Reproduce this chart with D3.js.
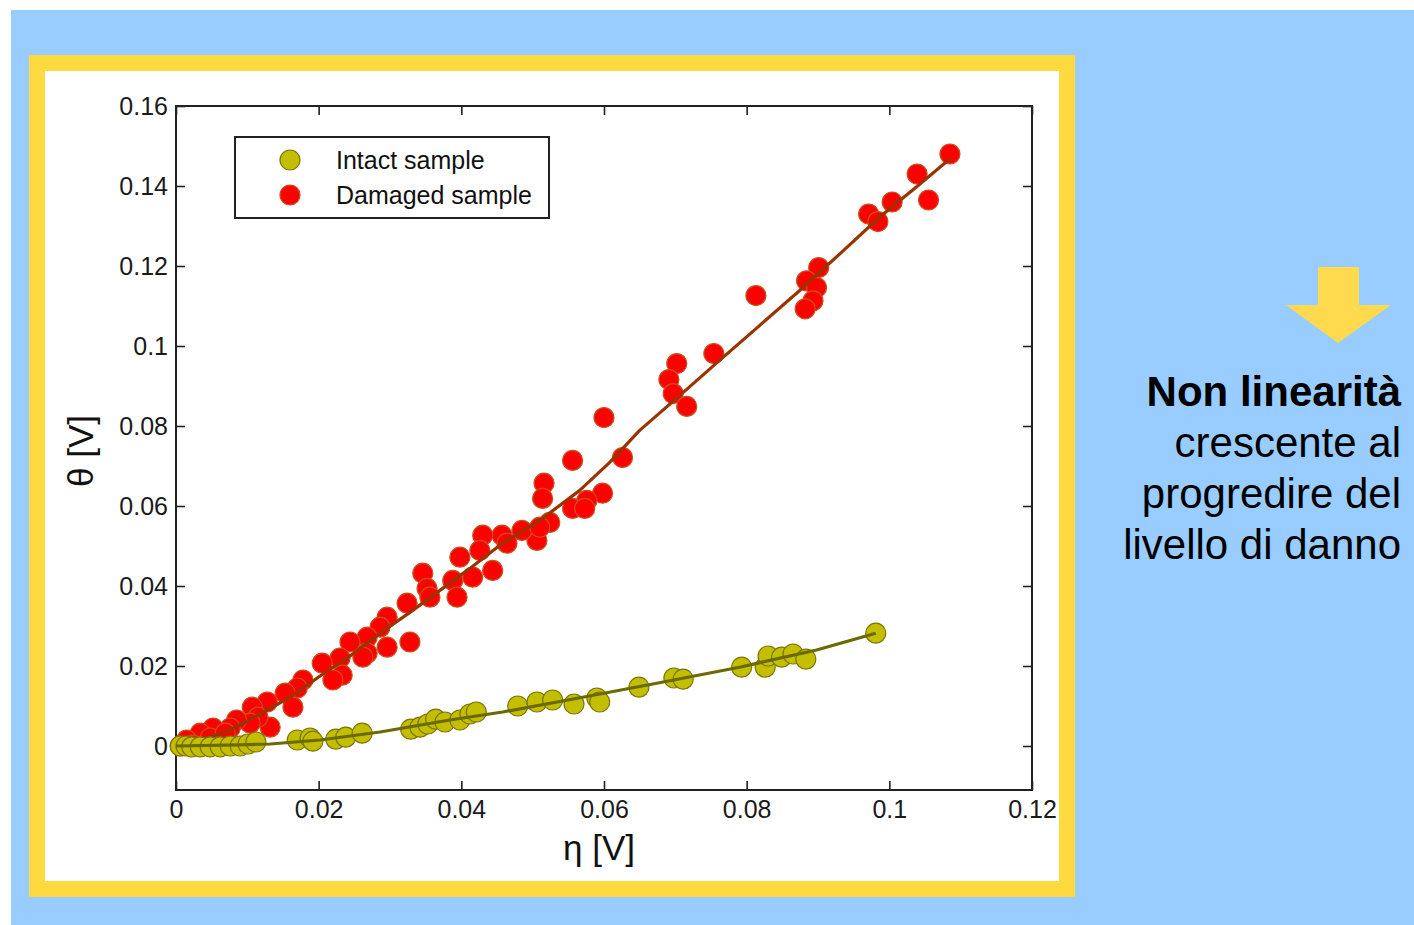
<!DOCTYPE html>
<html>
<head>
<meta charset="utf-8">
<script src="https://cdn.jsdelivr.net/npm/d3@7"></script>
<style>
  html, body { margin: 0; padding: 0; background: #ffffff; }
  svg { display: block; }
</style>
</head>
<body>
<svg id="chart" width="1414" height="925"></svg>
<script>
// Intact sample: measured points [eta, theta] in volts
const intactPoints = [
  [0.0006, 0.0000], [0.0014, 0.0000], [0.0022, -0.0002], [0.0034, -0.0002],
  [0.0048, -0.0002], [0.0062, -0.0002], [0.0076, 0.0000], [0.0090, 0.0000],
  [0.0101, 0.0005], [0.0112, 0.0010], [0.0170, 0.0015], [0.0188, 0.0020],
  [0.0192, 0.0012], [0.0224, 0.0017], [0.0238, 0.0022], [0.0261, 0.0032],
  [0.0329, 0.0042], [0.0342, 0.0047], [0.0353, 0.0055], [0.0364, 0.0067],
  [0.0377, 0.0060], [0.0398, 0.0065], [0.0412, 0.0080], [0.0421, 0.0085],
  [0.0479, 0.0100], [0.0506, 0.0110], [0.0528, 0.0115], [0.0558, 0.0105],
  [0.0590, 0.0120], [0.0594, 0.0110], [0.0649, 0.0147], [0.0698, 0.0170],
  [0.0711, 0.0167], [0.0793, 0.0197], [0.0826, 0.0197], [0.0830, 0.0225],
  [0.0849, 0.0222], [0.0865, 0.0230], [0.0883, 0.0217], [0.0981, 0.0282]
];

// Intact sample: fitted trend
const intactFit = [
  [0.0000, 0.0000], [0.0090, 0.0003], [0.0132, 0.0005], [0.0202, 0.0015],
  [0.0286, 0.0035], [0.0384, 0.0065], [0.0458, 0.0085], [0.0570, 0.0122],
  [0.0674, 0.0157], [0.0790, 0.0197], [0.0898, 0.0240], [0.0981, 0.0282]
];

// Damaged sample: measured points [eta, theta] in volts
const damagedPoints = [
  [0.1085, 0.1480], [0.1039, 0.1430], [0.1055, 0.1365], [0.1004, 0.1360],
  [0.0971, 0.1330], [0.0984, 0.1311], [0.0901, 0.1196], [0.0884, 0.1163],
  [0.0898, 0.1146], [0.0893, 0.1113], [0.0882, 0.1093], [0.0813, 0.1126],
  [0.0754, 0.0981], [0.0702, 0.0956], [0.0691, 0.0916], [0.0697, 0.0881],
  [0.0716, 0.0849], [0.0600, 0.0821], [0.0626, 0.0721], [0.0556, 0.0714],
  [0.0516, 0.0657], [0.0514, 0.0619], [0.0598, 0.0632], [0.0556, 0.0594],
  [0.0576, 0.0614], [0.0573, 0.0594], [0.0524, 0.0559], [0.0506, 0.0514],
  [0.0485, 0.0539], [0.0510, 0.0547], [0.0457, 0.0527], [0.0430, 0.0527],
  [0.0464, 0.0507], [0.0426, 0.0489], [0.0398, 0.0472], [0.0444, 0.0439],
  [0.0416, 0.0422], [0.0346, 0.0432], [0.0388, 0.0414], [0.0394, 0.0372],
  [0.0352, 0.0394], [0.0356, 0.0372], [0.0324, 0.0357], [0.0296, 0.0322],
  [0.0286, 0.0297], [0.0328, 0.0260], [0.0296, 0.0247], [0.0268, 0.0272],
  [0.0244, 0.0260], [0.0268, 0.0232], [0.0262, 0.0222], [0.0230, 0.0220],
  [0.0205, 0.0207], [0.0233, 0.0177], [0.0220, 0.0165], [0.0178, 0.0165],
  [0.0170, 0.0145], [0.0153, 0.0132], [0.0164, 0.0097], [0.0128, 0.0110],
  [0.0107, 0.0097], [0.0132, 0.0047], [0.0115, 0.0072], [0.0104, 0.0057],
  [0.0085, 0.0065], [0.0076, 0.0045], [0.0052, 0.0045], [0.0062, 0.0015],
  [0.0034, 0.0032], [0.0038, 0.0000], [0.0015, 0.0015], [0.0006, 0.0000],
  [0.0024, 0.0002], [0.0048, 0.0020], [0.0069, 0.0032]
];

// Damaged sample: fitted trend
const damagedFit = [
  [0.0000, 0.0000], [0.0034, 0.0015], [0.0076, 0.0040], [0.0118, 0.0080],
  [0.0160, 0.0122], [0.0202, 0.0175], [0.0244, 0.0225], [0.0286, 0.0282],
  [0.0328, 0.0334], [0.0370, 0.0389], [0.0412, 0.0444], [0.0454, 0.0502],
  [0.0510, 0.0564], [0.0566, 0.0639], [0.0608, 0.0709], [0.0650, 0.0789],
  [0.0706, 0.0876], [0.0762, 0.0964], [0.0818, 0.1051], [0.0874, 0.1138],
  [0.0931, 0.1231], [0.0987, 0.1323], [0.1043, 0.1405], [0.1085, 0.1468]
];

const seriesNames = ["Intact sample", "Damaged sample"];

const xTicks = [0, 0.02, 0.04, 0.06, 0.08, 0.1, 0.12];
const xTickLabels = ["0", "0.02", "0.04", "0.06", "0.08", "0.1", "0.12"];
const yTicks = [0, 0.02, 0.04, 0.06, 0.08, 0.1, 0.12, 0.14, 0.16];
const yTickLabels = ["0", "0.02", "0.04", "0.06", "0.08", "0.1", "0.12", "0.14", "0.16"];

const sideText = ["Non linearità", "crescente al", "progredire del", "livello di danno"];

const svg = d3.select("#chart");

// Slide background, frame and white chart panel
svg.append("rect").attr("x", 11).attr("y", 10).attr("width", 1403).attr("height", 915).attr("fill", "#99CCFF");
svg.append("rect").attr("x", 29).attr("y", 55).attr("width", 1046).attr("height", 842).attr("fill", "#FFD940");
svg.append("rect").attr("x", 45).attr("y", 71).attr("width", 1014).attr("height", 810).attr("fill", "#FFFFFF");

// Plot area
const plot = { left: 176, right: 1032, top: 106, bottom: 790 };
const x = d3.scaleLinear().domain([0, 0.12]).range([plot.left, plot.right]);
const y = d3.scaleLinear().domain([-0.011, 0.16]).range([plot.bottom, plot.top]);

const fontFamily = "'Liberation Sans', Arial, Helvetica, sans-serif";
const axisColor = "#222";

function styleAxis(g) {
  g.select(".domain").remove();
  g.selectAll(".tick line").attr("stroke", axisColor).attr("stroke-width", 1.6);
  g.selectAll(".tick text").attr("fill", "#1a1a1a").style("font-family", fontFamily).style("font-size", "25px");
}

svg.append("g").attr("transform", `translate(0,${plot.bottom})`)
  .call(d3.axisBottom(x).tickValues(xTicks).tickFormat((d, i) => xTickLabels[i]).tickSizeInner(-9).tickSizeOuter(0).tickPadding(10))
  .call(styleAxis);
svg.append("g").attr("transform", `translate(0,${plot.top})`)
  .call(d3.axisTop(x).tickValues(xTicks).tickFormat("").tickSizeInner(-9).tickSizeOuter(0))
  .call(styleAxis);
svg.append("g").attr("transform", `translate(${plot.left},0)`)
  .call(d3.axisLeft(y).tickValues(yTicks).tickFormat((d, i) => yTickLabels[i]).tickSizeInner(-9).tickSizeOuter(0).tickPadding(8))
  .call(styleAxis);
svg.append("g").attr("transform", `translate(${plot.right},0)`)
  .call(d3.axisRight(y).tickValues(yTicks).tickFormat("").tickSizeInner(-9).tickSizeOuter(0))
  .call(styleAxis);

// Axes box
svg.append("rect")
  .attr("x", plot.left).attr("y", plot.top)
  .attr("width", plot.right - plot.left).attr("height", plot.bottom - plot.top)
  .attr("fill", "none").attr("stroke", axisColor).attr("stroke-width", 2);

// Axis titles
svg.append("text")
  .attr("x", 599).attr("y", 860)
  .attr("text-anchor", "middle")
  .style("font-family", fontFamily).style("font-size", "35px").attr("fill", "#111")
  .text("η [V]");
svg.append("text")
  .attr("transform", "translate(93,451) rotate(-90)")
  .attr("text-anchor", "middle")
  .style("font-family", fontFamily).style("font-size", "35px").attr("fill", "#111")
  .text("θ [V]");

// Series styles
const styles = {
  intact: { fill: "#C4BE00", stroke: "#7A7600", line: "#6B6A00" },
  damaged: { fill: "#FF0000", stroke: "#C8501E", line: "#993300" }
};
const markerR = 10;
const line = d3.line().x(d => x(d[0])).y(d => y(d[1]));
const clip = svg.append("g");

function drawSeries(points, fit, st) {
  clip.append("g").selectAll("circle").data(points).join("circle")
    .attr("cx", d => x(d[0])).attr("cy", d => y(d[1])).attr("r", markerR)
    .attr("fill", st.fill).attr("stroke", st.stroke).attr("stroke-width", 1.2);
  clip.append("path").datum(fit)
    .attr("d", line).attr("fill", "none")
    .attr("stroke", st.line).attr("stroke-width", 3.2).attr("stroke-linejoin", "round");
}

drawSeries(damagedPoints, damagedFit, styles.damaged);
drawSeries(intactPoints, intactFit, styles.intact);

// Legend
const legend = svg.append("g");
legend.append("rect").attr("x", 235).attr("y", 137).attr("width", 314).attr("height", 81)
  .attr("fill", "#FFFFFF").attr("stroke", axisColor).attr("stroke-width", 2);
const legendRows = [
  { name: seriesNames[0], st: styles.intact, cy: 160 },
  { name: seriesNames[1], st: styles.damaged, cy: 195 }
];
legendRows.forEach(r => {
  legend.append("circle").attr("cx", 290).attr("cy", r.cy).attr("r", markerR)
    .attr("fill", r.st.fill).attr("stroke", r.st.stroke).attr("stroke-width", 1.2);
  legend.append("text").attr("x", 336).attr("y", r.cy + 9)
    .style("font-family", fontFamily).style("font-size", "25px").attr("fill", "#111")
    .text(r.name);
});

// Downward arrow
svg.append("path")
  .attr("d", "M1318,267 L1359,267 L1359,305 L1391,305 L1338,343 L1286,305 L1318,305 Z")
  .attr("fill", "#FFDA4F");

// Side caption
const caption = svg.append("g")
  .style("font-family", "'Liberation Sans', Arial, Helvetica, sans-serif")
  .style("font-size", "42px").attr("fill", "#000");
sideText.forEach((t, i) => {
  caption.append("text")
    .attr("x", 1401).attr("y", 406 + i * 51)
    .attr("text-anchor", "end")
    .style("font-weight", i === 0 ? "bold" : "normal")
    .text(t);
});
</script>
</body>
</html>
